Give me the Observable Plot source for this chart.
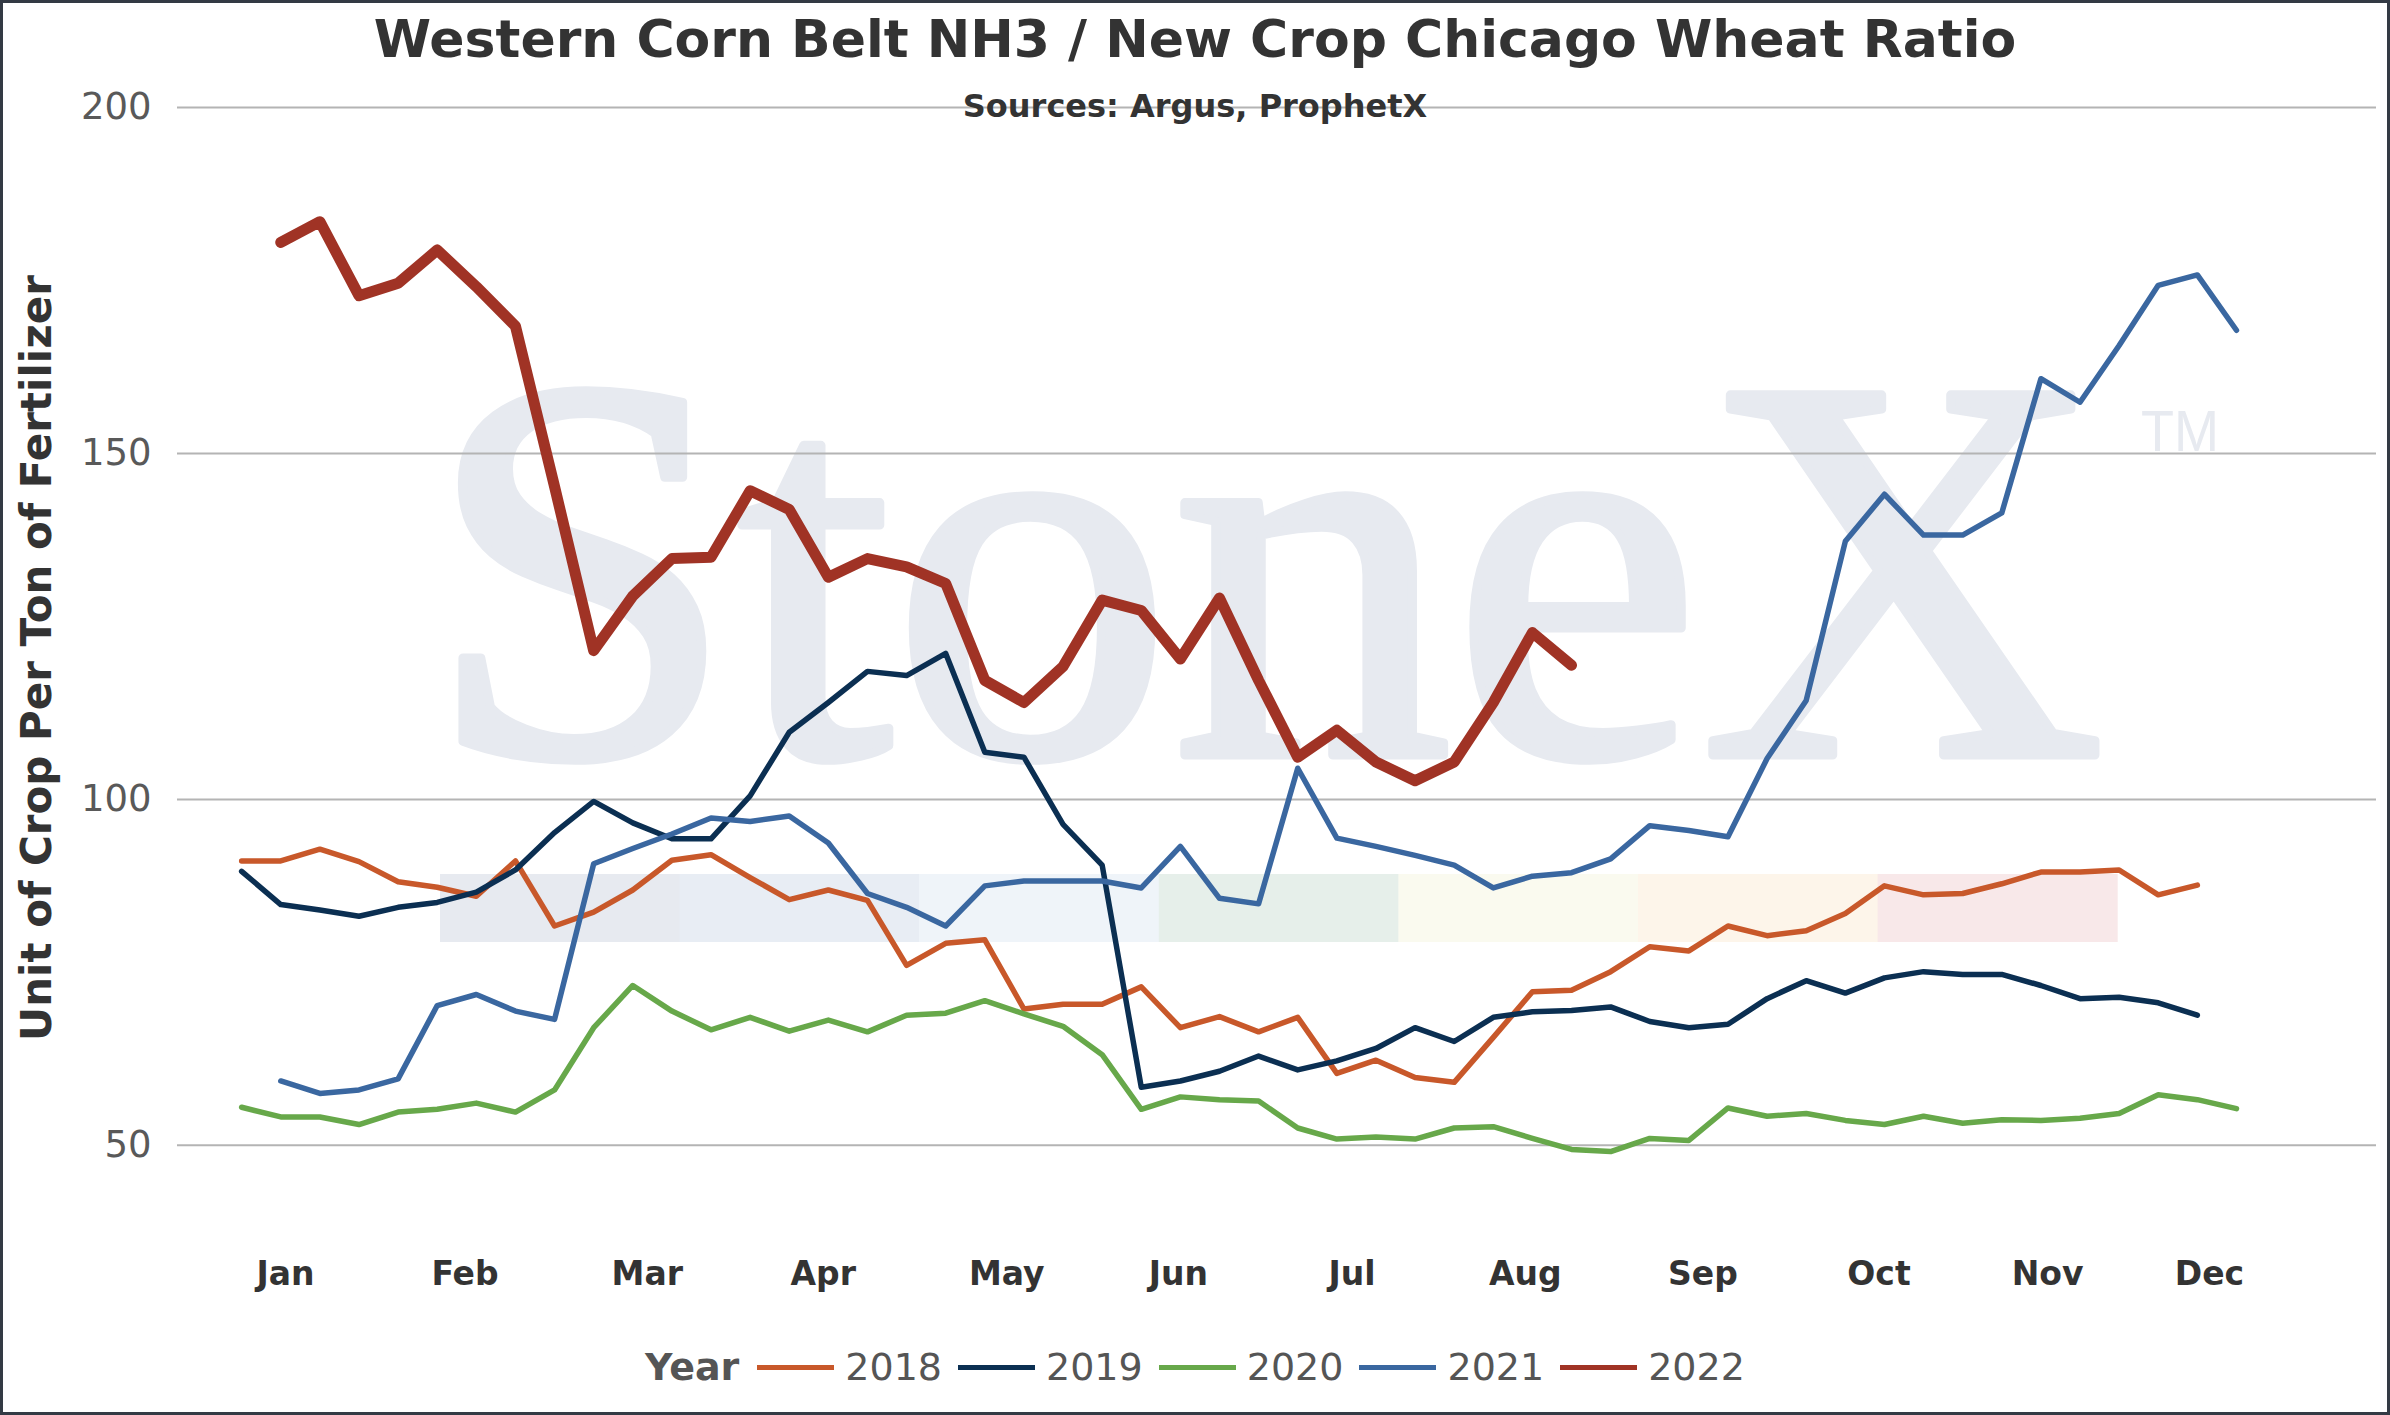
<!DOCTYPE html>
<html>
<head>
<meta charset="utf-8">
<script src="https://cdn.jsdelivr.net/npm/d3@7"></script>
<script src="https://cdn.jsdelivr.net/npm/@observablehq/plot@0.6"></script>
<style>
  html, body { margin: 0; padding: 0; background: #fff; }
  #frame { position: relative; width: 2390px; height: 1415px; overflow: hidden; background: #fff; font-family: "DejaVu Sans", Verdana, sans-serif; }
  #border { position: absolute; left: 0; top: 0; width: 2390px; height: 1415px; box-sizing: border-box; border: 3px solid #333a44; pointer-events: none; }
  .abs { position: absolute; }
  #title { left: 0; width: 2390px; top: 13px; text-align: center; font-size: 52px; line-height: 52px; font-weight: bold; color: #333; white-space: nowrap; }
  #subtitle { left: 0; width: 2390px; top: 90px; text-align: center; font-size: 32px; line-height: 32px; font-weight: bold; color: #333; white-space: nowrap; }
  #ytitle { left: -363px; top: 637px; width: 800px; height: 42px; line-height: 42px; text-align: center; font-size: 42px; font-weight: bold; color: #333; transform: rotate(-90deg); transform-origin: 50% 50%; white-space: nowrap; }
  #legend { left: 0; width: 2390px; top: 1348px; height: 38px; display: flex; justify-content: center; align-items: center; font-size: 38px; line-height: 38px; color: #555; white-space: nowrap; }
  #legend .head { font-weight: bold; margin-right: 18px; }
  #legend .sw { width: 77px; height: 5px; margin-right: 11px; }
  #legend .lab { margin-right: 16px; }
</style>
</head>
<body>
<div id="frame">
  <svg id="wm" class="abs" style="left:0;top:0" width="2390" height="1415"></svg>
  <div id="plot" class="abs" style="left:0;top:0"></div>
  <div id="title" class="abs">Western Corn Belt NH3 / New Crop Chicago Wheat Ratio</div>
  <div id="subtitle" class="abs">Sources: Argus, ProphetX</div>
  <div id="ytitle" class="abs">Unit of Crop Per Ton of Fertilizer</div>
  <div id="legend" class="abs"></div>
  <div id="border"></div>
</div>
<script>
// ---- data ----
const years = ["2018", "2019", "2020", "2021", "2022"];
const colors = ["#c8582a", "#0b2f52", "#67a84a", "#3a67a0", "#a03325"];

// weekly values, index 0 = week 1 (null = no value)
const v2018 = [91.1, 91.1, 92.8, 91.0, 88.1, 87.3, 86.0, 91.1, 81.7, 83.7, 86.9, 91.2, 92.0,
  88.7, 85.5, 86.9, 85.4, 76.0, 79.2, 79.7, 69.7, 70.4, 70.4, 72.9, 67.0, 68.6,
  66.4, 68.5, 60.4, 62.3, 59.8, 59.1, 65.6, 72.2, 72.4, 75.1, 78.7, 78.1, 81.7,
  80.3, 81.0, 83.5, 87.5, 86.2, 86.4, 87.8, 89.5, 89.5, 89.8, 86.2, 87.6];
const v2019 = [89.6, 84.8, 84.0, 83.1, 84.4, 85.1, 86.6, 89.8, 95.2, 99.7, 96.6, 94.3, 94.3,
  100.5, 109.7, 114.0, 118.5, 117.9, 121.1, 106.8, 106.1, 96.4, 90.5, 58.4, 59.3, 60.7,
  62.9, 60.9, 62.2, 64.0, 67.0, 65.0, 68.5, 69.3, 69.5, 70.0, 67.9, 67.0, 67.5,
  71.2, 73.8, 72.0, 74.2, 75.1, 74.7, 74.7, 73.1, 71.2, 71.4, 70.6, 68.8];
const v2020 = [55.5, 54.1, 54.1, 53.0, 54.8, 55.2, 56.1, 54.8, 58.0, 67.0, 73.1, 69.4, 66.7,
  68.5, 66.5, 68.1, 66.4, 68.8, 69.1, 70.9, 69.0, 67.2, 63.1, 55.2, 57.0, 56.6,
  56.4, 52.5, 50.9, 51.2, 50.9, 52.5, 52.7, 51.0, 49.4, 49.1, 51.0, 50.7, 55.4,
  54.2, 54.6, 53.6, 53.0, 54.2, 53.2, 53.7, 53.6, 53.9, 54.6, 57.3, 56.6, 55.3];
const v2021 = [null, 59.3, 57.5, 58.0, 59.6, 70.2, 71.8, 69.4, 68.2, 90.7, 92.9, 95.0, 97.3,
  96.8, 97.6, 93.7, 86.4, 84.4, 81.7, 87.5, 88.2, 88.2, 88.2, 87.2, 93.2, 85.7,
  84.9, 104.5, 94.4, 93.2, 91.9, 90.5, 87.2, 88.9, 89.4, 91.4, 96.2, 95.5, 94.6,
  105.9, 114.3, 137.3, 144.1, 138.2, 138.2, 141.4, 160.8, 157.4, 165.6, 174.3, 175.8, 167.8];
const v2022 = [null, 180.5, 183.5, 172.8, 174.6, 179.4, 174.1, 168.4, 145.2, 121.5, 129.4, 134.8, 135.0,
  144.6, 141.9, 132.1, 134.8, 133.6, 131.2, 117.2, 114.0, 119.2, 128.8, 127.3, 120.3, 129.1,
  117.2, 106.1, 110.0, 105.4, 102.7, 105.4, 114.0, 124.1, 119.4];

const monthNames = ["Jan", "Feb", "Mar", "Apr", "May", "Jun", "Jul", "Aug", "Sep", "Oct", "Nov", "Dec"];
const monthTickWeeks = [2.12, 6.71, 11.37, 15.87, 20.56, 24.95, 29.39, 33.82, 38.36, 42.86, 47.17, 51.31];
const yTicks = [50, 100, 150, 200];

// watermark band colours (StoneX logo strip)
const bandColors = ["#e7eaf0", "#e8edf4", "#eff4f9", "#e6efea", "#fafaef", "#fdf5ea", "#f8e8e9"];

// ---- build table ----
const series = [v2018, v2019, v2020, v2021, v2022];
const rows = [];
series.forEach((arr, k) => arr.forEach((v, i) => {
  if (v != null) rows.push({week: i + 1, value: v, year: years[k]});
}));
const monthByWeek = new Map(monthTickWeeks.map((w, i) => [w, monthNames[i]]));

// ---- watermark ----
const wm = d3.select("#wm");
const bandX0 = 440, bandW = 239.6, bandY = 874, bandH = 68;
wm.selectAll("rect").data(bandColors).join("rect")
  .attr("x", (d, i) => bandX0 + i * bandW).attr("y", bandY)
  .attr("width", bandW + 0.5).attr("height", bandH).attr("fill", d => d);
wm.append("text").attr("x", 425).attr("y", 755)
  .attr("font-family", "'Liberation Serif', 'DejaVu Serif', serif")
  .attr("font-size", 550).attr("fill", "#e7eaf0")
  .attr("stroke", "#e7eaf0").attr("stroke-width", 9).attr("stroke-linejoin", "round")
  .attr("textLength", 1680).attr("lengthAdjust", "spacingAndGlyphs")
  .text("StoneX");
wm.append("text").attr("x", 2141).attr("y", 451)
  .attr("font-family", "'Liberation Sans', Arial, sans-serif")
  .attr("font-size", 58).attr("fill", "#e7eaf0")
  .attr("textLength", 78).attr("lengthAdjust", "spacingAndGlyphs")
  .text("TM");

// ---- chart ----
const chart = Plot.plot({
  width: 2390,
  height: 1300,
  marginTop: 107,
  marginRight: 14,
  marginBottom: 86,
  marginLeft: 177,
  style: {background: "transparent", fontFamily: "'DejaVu Sans', Verdana, sans-serif", overflow: "visible"},
  x: {domain: [-0.64, 55.58]},
  y: {domain: [40, 200]},
  color: {domain: years, range: colors},
  marks: [
    Plot.gridY({ticks: yTicks, stroke: "#b4b4b4", strokeOpacity: 1, strokeWidth: 2}),
    Plot.axisY({ticks: yTicks, tickSize: 0, tickPadding: 26, fontSize: 37, color: "#595959", label: null}),
    Plot.axisX({ticks: monthTickWeeks, tickSize: 0, tickPadding: 47, fontSize: 33, fontWeight: "bold",
      color: "#333", label: null, tickFormat: d => monthByWeek.get(d)}),
    Plot.line(rows.filter(d => d.year !== "2022"), {x: "week", y: "value", z: "year", stroke: "year",
      strokeWidth: 5.5, strokeLinejoin: "round", strokeLinecap: "round"}),
    Plot.line(rows.filter(d => d.year === "2022"), {x: "week", y: "value", stroke: "year",
      strokeWidth: 11, strokeLinejoin: "round", strokeLinecap: "round"})
  ]
});
document.getElementById("plot").appendChild(chart);

// ---- legend ----
const legend = d3.select("#legend");
legend.append("span").attr("class", "head").text("Year");
years.forEach((y, i) => {
  legend.append("span").attr("class", "sw").style("background", colors[i]);
  legend.append("span").attr("class", "lab").style("margin-right", i === years.length - 1 ? "0px" : null).text(y);
});
</script>
</body>
</html>
